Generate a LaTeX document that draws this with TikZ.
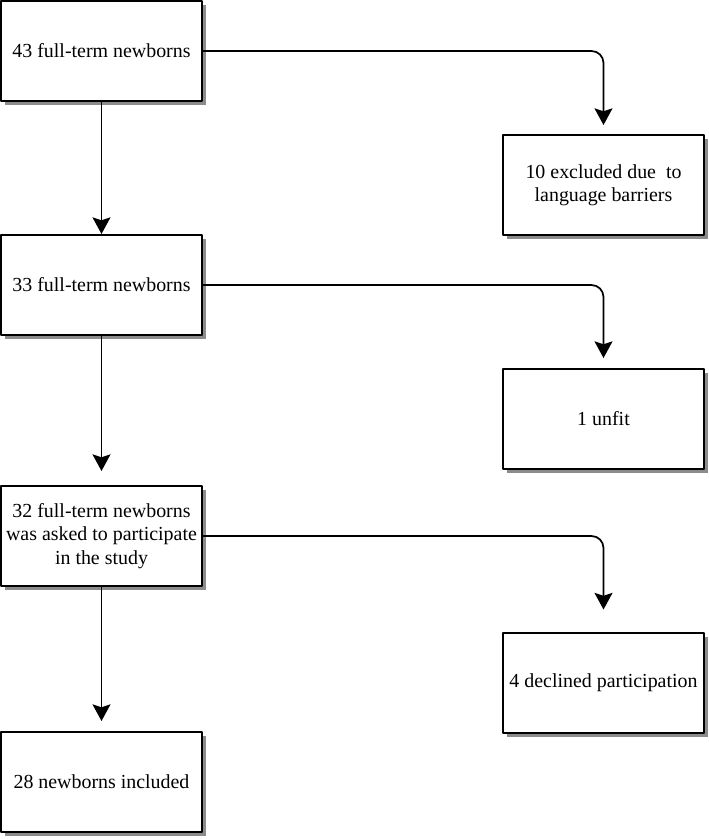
\documentclass[tikz,border=0pt]{standalone}
\usepackage{fontspec}
\setmainfont{Liberation Serif}
\usetikzlibrary{arrows.meta,shadows}

\begin{document}
\begin{tikzpicture}[x=0.03cm,y=-0.03cm,>={Stealth[length=5mm,width=5.4mm,inset=0.9mm]}, font=\fontsize{17}{20}\selectfont, line join=round,
	box/.style={draw,line width=1.7pt,fill=white,minimum width=6.03cm,minimum height=3cm,align=center,inner sep=2pt,
		drop shadow={shadow xshift=0.12cm,shadow yshift=-0.12cm,fill=black!45,opacity=1}},
	conn/.style={->,line width=1.5pt,rounded corners=0.36cm}]
	\useasboundingbox (0,0) rectangle (709,839);
	% left column
	\node[box] (n43) at (101.5,51) {43 full-term newborns};
	\node[box] (n33) at (101.5,285) {33 full-term newborns};
	\node[box] (n32) at (101.5,536) {32 full-term newborns\\was asked to participate\\in the study};
	\node[box] (n28) at (101.5,782) {28 newborns included};
	% right column
	\node[box] (excl) at (603.5,185) {10 excluded due\ \ to\\language barriers};
	\node[box] (unfit) at (603.5,419) {1 unfit};
	\node[box] (decl) at (603.5,682.5) {4 declined participation};
	\foreach \a/\b/\g in {n43/n33/0, n33/n32/0.42, n32/n28/0.3}
	\draw[conn,shorten >=\g cm] (\a) -- (\b);
	\foreach \a/\b/\g in {n43/excl/0.27, n33/unfit/0.3, n32/decl/0.66}
	\draw[conn,shorten >=\g cm] (\a.east) -| (\b.north);
\end{tikzpicture}
\end{document}
